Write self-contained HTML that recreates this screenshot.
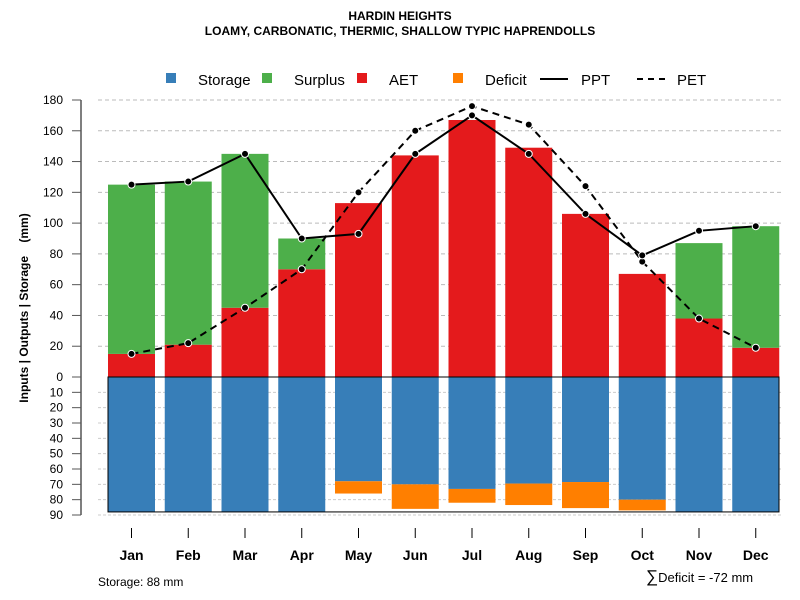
<!DOCTYPE html>
<html><head><meta charset="utf-8"><style>
body{margin:0;background:#fff;}
svg{display:block;font-family:"Liberation Sans",sans-serif;}
.n{font-family:"Liberation Sans Narrow","Liberation Sans",sans-serif;}
</style></head><body>
<svg id="c" width="800" height="600" viewBox="0 0 800 600">
<text x="400" y="20" text-anchor="middle" font-size="12" font-weight="bold">HARDIN HEIGHTS</text>
<text x="400" y="35" text-anchor="middle" font-size="12" font-weight="bold">LOAMY, CARBONATIC, THERMIC, SHALLOW TYPIC HAPRENDOLLS</text>
<g font-size="15">
<g><rect x="166" y="73" width="10" height="10" fill="#377eb8"/><text x="198" y="85">Storage</text></g>
<g><rect x="262" y="73" width="10" height="10" fill="#4daf4a"/><text x="294" y="85">Surplus</text></g>
<g><rect x="357" y="73" width="10" height="10" fill="#e41a1c"/><text x="389" y="85">AET</text></g>
<g><rect x="453" y="73" width="10" height="10" fill="#ff7f00"/><text x="485" y="85">Deficit</text></g>
<g><line x1="540" y1="79" x2="568" y2="79" stroke="#000" stroke-width="2"/><text x="581" y="85">PPT</text></g>
<g><line x1="637" y1="79" x2="665" y2="79" stroke="#000" stroke-width="2" stroke-dasharray="6,5"/><text x="677" y="85">PET</text></g>
</g>
<text transform="translate(28,308) rotate(-90)" text-anchor="middle" font-size="12" font-weight="bold" style="white-space:pre">Inputs | Outputs | Storage    (mm)</text>
<g id="grid"></g><g id="bars"></g><g id="lines"></g><g id="axes"></g>
<text x="98" y="586" font-size="12" class="n">Storage: 88 mm</text>
<text x="646" y="582" font-size="13" class="n"><tspan font-size="17">∑</tspan>Deficit = -72 mm</text>
</svg>
<script>
const months=["Jan","Feb","Mar","Apr","May","Jun","Jul","Aug","Sep","Oct","Nov","Dec"];
const aet=[15,21,45,70,113,144,167,149,106,67,38,19];
const surplus=[110,106,100,20,0,0,0,0,0,0,49,79];
const ppt=[125,127,145,90,93,145,170,145,106,79,95,98];
const pet=[15,22,45,70,120,160,176,164,124,75,38,19];
const storage=[88,88,88,88,68,70,73,69.5,68.5,80,88,88];
const deficit=[0,0,0,0,8,16,9,14,17,7,0,0];
const upTicks=[0,20,40,60,80,100,120,140,160,180];
const downTicks=[10,20,30,40,50,60,70,80,90];
const NS="http://www.w3.org/2000/svg";
const y0=377,upS=277/180,dnS=138/90;
const yUp=v=>y0-v*upS, yDn=v=>y0+v*dnS;
const xC=i=>131.5+i*56.75, bw=47;
function mk(p,tag,a){const e=document.createElementNS(NS,tag);for(const k in a)e.setAttribute(k,a[k]);document.getElementById(p).appendChild(e);return e;}
upTicks.slice(1).forEach(t=>{const l=mk('grid','line',{x1:98,x2:783,y1:yUp(t),y2:yUp(t),stroke:'#bbb','stroke-dasharray':'4,3'});

});
downTicks.forEach(t=>{const l=mk('grid','line',{x1:98,x2:783,y1:yDn(t),y2:yDn(t),stroke:'#ccc','stroke-dasharray':'3,2'});

});
months.forEach((m,i)=>{const x=xC(i)-bw/2;
let r=mk('bars','rect',{x:x,y:yUp(aet[i]),width:bw,height:aet[i]*upS,fill:'#e41a1c'});


if(surplus[i]>0){r=mk('bars','rect',{x:x,y:yUp(aet[i]+surplus[i]),width:bw,height:surplus[i]*upS,fill:'#4daf4a'});

}
r=mk('bars','rect',{x:x,y:y0,width:bw,height:storage[i]*dnS,fill:'#377eb8'});


if(deficit[i]>0){r=mk('bars','rect',{x:x,y:yDn(storage[i]),width:bw,height:deficit[i]*dnS,fill:'#ff7f00'});

}
});
let f=mk('bars','rect',{x:108,y:y0,width:671,height:88*dnS,fill:'none',stroke:'#000'});


function series(arr,name,dash){
const pts=arr.map((v,i)=>xC(i)+','+yUp(v)).join(' ');
const pl=mk('lines','polyline',{points:pts,fill:'none',stroke:'#000','stroke-width':2,'stroke-dasharray':dash});


arr.forEach((v,i)=>{const c=mk('lines','circle',{cx:xC(i),cy:yUp(v),r:3.5,fill:'#000',stroke:'#fff','stroke-width':1});

});}
series(pet,'pet','7,5');series(ppt,'ppt','none');
let ax=mk('axes','line',{x1:81,x2:81,y1:yUp(180),y2:yDn(90),stroke:'#555','stroke-width':1.5});


upTicks.forEach(t=>{mk('axes','line',{x1:72,x2:81,y1:yUp(t),y2:yUp(t),stroke:'#555'});
const tx=mk('axes','text',{x:63,y:yUp(t)+4,'text-anchor':'end','font-size':12});tx.textContent=t;

});
downTicks.forEach(t=>{mk('axes','line',{x1:72,x2:81,y1:yDn(t),y2:yDn(t),stroke:'#555'});
const tx=mk('axes','text',{x:63,y:yDn(t)+4,'text-anchor':'end','font-size':12});tx.textContent=t;

});
months.forEach((m,i)=>{mk('axes','line',{x1:xC(i),x2:xC(i),y1:528,y2:538,stroke:'#000'});
const tx=mk('axes','text',{x:xC(i),y:560,'text-anchor':'middle','font-size':14,'font-weight':'bold'});tx.textContent=m;

});
</script>
</body></html>
